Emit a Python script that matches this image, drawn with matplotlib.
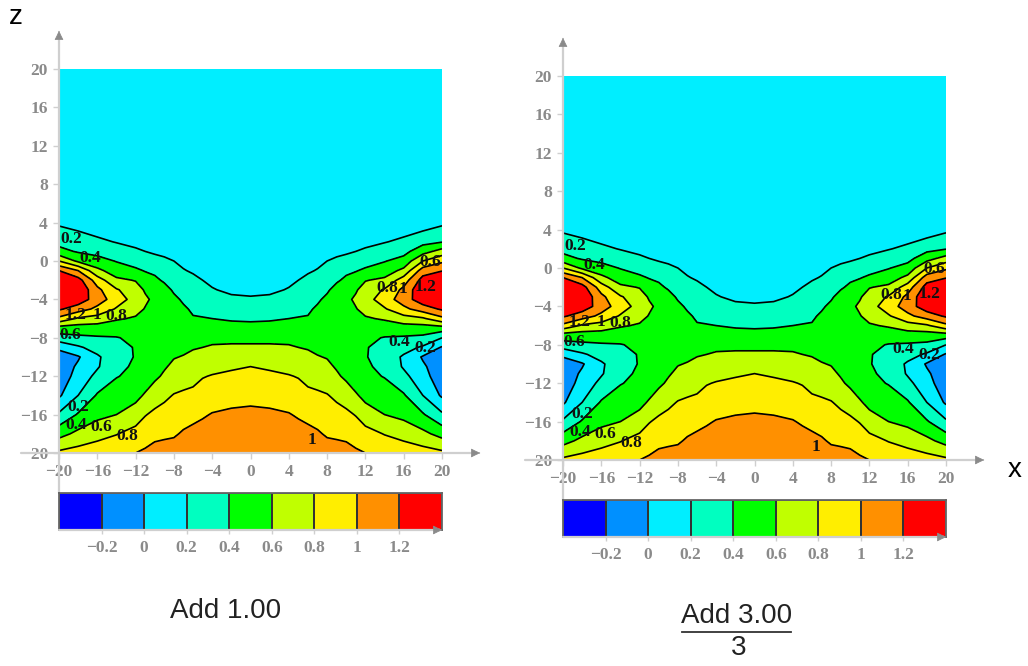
import numpy as np
import matplotlib
matplotlib.use("Agg")
import matplotlib.pyplot as plt
from matplotlib.colors import ListedColormap, BoundaryNorm
from matplotlib.lines import Line2D

W, H = 1028, 666

# -------------------------
# Values
# -------------------------

z_rows = [20, 4, 3, 2, 1, 0, -1, -2, -3, -4, -5, -6, -7, -8, -9, -10, -11, -12, -14, -16, -18, -20]
x_half = [-20, -18, -16, -14, -12, -11, -10, -9, -8, -7, -6, -5, -4, -2, 0]

col_m20 = [.05, .17, .255, .34, .46, .80, 1.20, 1.40, 1.50, 1.40, 1.23, .95, .51, .32, .03, -.07, -.12, -.13, -.03, .23, .53, .84]
col_m18 = [.05, .13, .21, .30, .38, .56, 1.00, 1.28, 1.37, 1.32, 1.10, .77, .50, .36, .17, -.02, .03, .08, .20, .42, .65, .88]
col_m16 = [.05, .10, .16, .24, .34, .47, .65, .90, 1.05, 1.10, .95, .72, .50, .38, .28, .17, .18, .25, .42, .55, .72, .93]
col_m14 = [.04, .07, .12, .19, .29, .39, .50, .64, .82, .90, .78, .62, .50, .39, .35, .33, .35, .39, .50, .60, .79, .97]
col_m12 = [.04, .05, .09, .15, .23, .33, .43, .59, .68, .72, .66, .58, .50, .44, .41, .41, .43, .45, .55, .68, .88, 1.00]
col_m11 = [.03, .05, .08, .13, .20, .30, .39, .48, .58, .63, .59, .54, .49, .45, .44, .44, .46, .50, .62, .79, .91, 1.03]
col_m10 = [.03, .04, .07, .12, .17, .27, .37, .43, .50, .56, .53, .50, .47, .46, .46, .47, .50, .56, .71, .84, .95, 1.07]
col_m9 = [.03, .03, .06, .10, .16, .23, .30, .38, .45, .50, .50, .48, .47, .48, .50, .53, .58, .63, .76, .87, .97, 1.07]
col_m8 = [.03, .03, .05, .08, .13, .20, .25, .32, .38, .43, .45, .46, .47, .50, .54, .59, .64, .69, .81, .90, .98, 1.08]
col_m7 = [.03, .03, .04, .07, .11, .16, .21, .27, .33, .38, .42, .44, .47, .51, .56, .61, .66, .72, .83, .93, 1.02, 1.10]
col_m6 = [.03, .03, .04, .06, .10, .14, .18, .24, .29, .33, .38, .41, .46, .51, .59, .63, .68, .75, .84, .95, 1.05, 1.12]
col_m5 = [.03, .03, .04, .05, .08, .12, .16, .20, .25, .29, .35, .41, .47, .53, .60, .66, .72, .79, .88, .98, 1.07, 1.13]
col_m4 = [.03, .03, .04, .05, .07, .10, .14, .17, .21, .26, .33, .40, .47, .55, .62, .68, .75, .81, .91, 1.01, 1.08, 1.14]
col_m2 = [.03, .03, .03, .04, .06, .08, .11, .14, .17, .23, .31, .38, .46, .55, .63, .71, .78, .83, .94, 1.03, 1.10, 1.15]
col_0 = [.03, .03, .03, .04, .05, .07, .10, .13, .16, .22, .30, .37, .46, .55, .63, .72, .80, .84, .95, 1.04, 1.10, 1.16]
col_p18 = [.05, .13, .21, .34, .52, .80, 1.10, 1.28, 1.37, 1.32, 1.10, .77, .50, .36, .17, -.02, .03, .08, .20, .42, .65, .88]
col_p20 = [.05, .17, .26, .39, .68, .96, 1.19, 1.40, 1.50, 1.40, 1.23, .95, .51, .20, -.02, -.07, -.12, -.13, -.03, .23, .53, .84]

levels = [-0.4, -0.2, 0, 0.2, 0.4, 0.6, 0.8, 1, 1.2, 1.4]
band_colors = ["#0000ff", "#0090ff", "#00eeff", "#00ffc0", "#00ff00",
               "#c0ff00", "#ffee00", "#ff9000", "#ff0000"]

axis_ticks = [-20, -16, -12, -8, -4, 0, 4, 8, 12, 16, 20]
bar_ticks = [-0.2, 0, 0.2, 0.4, 0.6, 0.8, 1, 1.2]
bar_tick_labels = ["\u22120.2", "0", "0.2", "0.4", "0.6", "0.8", "1", "1.2"]

label_text = ["0.2", "0.4", "1.2", "1", "0.8", "0.6", "0.2", "0.4", "0.6", "0.8",
              "0.6", "0.8", "1", "1.2", "0.4", "0.2", "1"]
label_x = [-18.75, -16.75, -18.3, -16, -14, -18.85, -18, -18.2, -15.6, -12.9,
           18.75, 14.25, 15.9, 18.3, 15.5, 18.2, 6.4]
label_z = [2.3, 0.3, -5.6, -5.6, -5.7, -7.7, -15.2, -17.1, -17.3, -18.2,
           -0.1, -2.8, -2.9, -2.7, -8.4, -9.1, -18.65]

# -------------------------
# Grid
# -------------------------

left_cols = [col_m20, col_m18, col_m16, col_m14, col_m12, col_m11, col_m10, col_m9,
             col_m8, col_m7, col_m6, col_m5, col_m4, col_m2, col_0]
right_cols = [col_m2, col_m4, col_m5, col_m6, col_m7, col_m8, col_m9, col_m10,
              col_m11, col_m12, col_m14, col_m16, col_p18, col_p20]
grid = np.array(left_cols + right_cols).T
x_all = np.array(x_half + [-v for v in x_half[-2::-1]])
z_all = np.array(z_rows)

cmap = ListedColormap(band_colors)
norm = BoundaryNorm(levels, cmap.N)

serif = {"family": "Liberation Serif", "weight": "bold"}
gray = "#8a8a8a"
light = "#cfcfcf"


def px_axes(fig, x0, y0, x1, y1):
    return fig.add_axes([x0 / W, 1 - y1 / H, (x1 - x0) / W, (y1 - y0) / H])


def arrow(ax, start, end):
    ax.annotate("", xy=end, xytext=start, xycoords="axes fraction",
                textcoords="axes fraction", annotation_clip=False,
                arrowprops=dict(arrowstyle="-|>", color=light, lw=1.6, shrinkA=0, shrinkB=0,
                                mutation_scale=1))
    ax.annotate("", xy=end, xytext=(end[0] - (end[0] - start[0]) * 0.001, end[1] - (end[1] - start[1]) * 0.001),
                xycoords="axes fraction", textcoords="axes fraction", annotation_clip=False,
                arrowprops=dict(arrowstyle="-|>", color=gray, lw=0.5, shrinkA=0, shrinkB=0,
                                mutation_scale=14))


def draw_panel(fig, dx, dy):
    ax = px_axes(fig, 59 + dx, 69 + dy, 442 + dx, 453 + dy)
    ax.contourf(x_all, z_all, grid, levels=levels, cmap=cmap, norm=norm, extend="both")
    ax.contour(x_all, z_all, grid, levels=levels[1:-1], colors="black", linewidths=1.2)
    ax.set_xlim(-20, 20)
    ax.set_ylim(-20, 20)
    for s in ax.spines.values():
        s.set_visible(False)
    ax.set_xticks(axis_ticks)
    ax.set_yticks(axis_ticks)
    ax.tick_params(length=4, width=1, color=light, labelcolor=gray, pad=4, direction="out")
    for t in ax.get_xticklabels() + ax.get_yticklabels():
        t.set_fontfamily("Liberation Serif")
        t.set_fontweight("bold")
        t.set_fontsize(12.5)

    # axis lines with arrow heads, the y one runs down to the colour bar
    arrow(ax, (0, (453 - 493) / 384), (0, (453 - 31) / 384))
    arrow(ax, (-38 / 383, 0), (421 / 383, 0))

    for txt, xv, zv in zip(label_text, label_x, label_z):
        ax.text(xv, zv, txt, ha="center", va="center", fontsize=12.5, color="#111111", **serif)

    bar = px_axes(fig, 59 + dx, 493 + dy, 442 + dx, 530 + dy)
    bar.pcolormesh(levels, [0, 1], [[(a + b) / 2 for a, b in zip(levels[:-1], levels[1:])]],
                   cmap=cmap, norm=norm, edgecolors="#333333", linewidth=1.4)
    bar.set_xlim(levels[0], levels[-1])
    bar.set_yticks([])
    for s in bar.spines.values():
        s.set_color("#666666")
        s.set_linewidth(1.3)
    bar.set_xticks(bar_ticks)
    bar.set_xticklabels(bar_tick_labels, color=gray, fontsize=12.5, **serif)
    bar.tick_params(axis="x", length=3, width=1, color=light, pad=4)
    arrow(bar, (0, 0), (1, 0))


fig = plt.figure(figsize=(W / 100, H / 100), dpi=100)

draw_panel(fig, 0, 0)
draw_panel(fig, 504, 7)

sans = "Liberation Sans"
fig.text(16 / W, 1 - 17 / H, "z", family=sans, fontsize=20, ha="center", va="center")
fig.text(1015 / W, 1 - 470 / H, "x", family=sans, fontsize=20, ha="center", va="center")
fig.text(226 / W, 1 - 611 / H, "Add 1.00", family=sans, fontsize=20, ha="center", va="center", color="#222222")
fig.text(737 / W, 1 - 616 / H, "Add 3.00", family=sans, fontsize=20, ha="center", va="center", color="#222222")
fig.add_artist(Line2D([682 / W, 791 / W], [1 - 632 / H, 1 - 632 / H], color="#333333", lw=1.3))
fig.text(739 / W, 1 - 648 / H, "3", family=sans, fontsize=20, ha="center", va="center", color="#222222")

fig.savefig("out.png", dpi=100)
